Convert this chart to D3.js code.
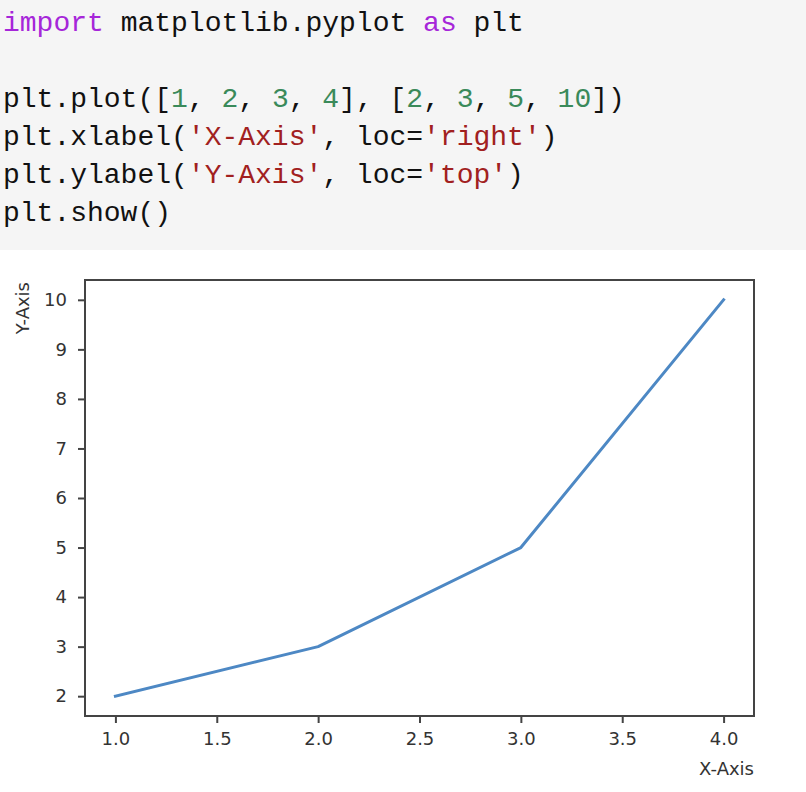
<!DOCTYPE html>
<html>
<head>
<meta charset="utf-8">
<script src="https://cdn.jsdelivr.net/npm/d3@7"></script>
<style>
html,body{margin:0;padding:0;background:#fff;}
svg{display:block;}
</style>
</head>
<body>
<svg id="chart" width="806" height="792"></svg>
<script>
// ---- data ----
const xValues = [1, 2, 3, 4];
const yValues = [2, 3, 5, 10];
const xTicks = [1.0, 1.5, 2.0, 2.5, 3.0, 3.5, 4.0];
const yTicks = [2, 3, 4, 5, 6, 7, 8, 9, 10];
const xLabel = "X-Axis";
const yLabel = "Y-Axis";

// code lines: arrays of [text, kind]
const codeLines = [
  [["import", "kw"], [" matplotlib.pyplot ", "pl"], ["as", "kw"], [" plt", "pl"]],
  [],
  [["plt.plot([", "pl"], ["1", "num"], [", ", "pl"], ["2", "num"], [", ", "pl"], ["3", "num"], [", ", "pl"], ["4", "num"],
   ["], [", "pl"], ["2", "num"], [", ", "pl"], ["3", "num"], [", ", "pl"], ["5", "num"], [", ", "pl"], ["10", "num"], ["])", "pl"]],
  [["plt.xlabel(", "pl"], ["'X-Axis'", "str"], [", loc=", "pl"], ["'right'", "str"], [")", "pl"]],
  [["plt.ylabel(", "pl"], ["'Y-Axis'", "str"], [", loc=", "pl"], ["'top'", "str"], [")", "pl"]],
  [["plt.show()", "pl"]]
];

const colors = {kw: "#a626d9", pl: "#111111", num: "#3a8a5a", str: "#a12020"};

const svg = d3.select("#chart");

// code block
svg.append("rect").attr("x", 0).attr("y", 0).attr("width", 806).attr("height", 250).attr("fill", "#f5f5f5");
const codeG = svg.append("g");
codeLines.forEach((segs, i) => {
  const t = codeG.append("text")
    .attr("x", 3)
    .attr("y", 31 + i * 38)
    .attr("font-family", "'Liberation Mono', 'DejaVu Sans Mono', monospace")
    .attr("font-size", 28)
    .attr("xml:space", "preserve")
    .style("white-space", "pre");
  segs.forEach(([txt, k]) => {
    t.append("tspan").attr("fill", colors[k]).text(txt);
  });
});

// chart
const mLeft = 85, mRight = 754, mTop = 280, mBottom = 716;
const x = d3.scaleLinear().domain([0.85, 4.15]).range([mLeft, mRight]);
const y = d3.scaleLinear().domain([1.6, 10.4]).range([mBottom, mTop]);

const axisColor = "#444";
const textColor = "#333";
const fontFam = "'DejaVu Sans', sans-serif";

svg.append("path")
  .datum(xValues.map((v, i) => [v, yValues[i]]))
  .attr("fill", "none")
  .attr("stroke", "#4d88c4")
  .attr("stroke-width", 3)
  .attr("stroke-linejoin", "round")
  .attr("stroke-linecap", "square")
  .attr("d", d3.line().x(d => x(d[0])).y(d => y(d[1])));

const xAxis = svg.append("g")
  .attr("transform", `translate(0,${mBottom})`)
  .call(d3.axisBottom(x).tickValues(xTicks).tickFormat(d3.format(".1f")).tickSize(7).tickPadding(9));
const yAxis = svg.append("g")
  .attr("transform", `translate(${mLeft},0)`)
  .call(d3.axisLeft(y).tickValues(yTicks).tickFormat(d3.format("d")).tickSize(7).tickPadding(11));

[xAxis, yAxis].forEach(a => {
  a.select(".domain").remove();
  a.selectAll(".tick line").attr("stroke", axisColor).attr("stroke-width", 2);
  a.selectAll(".tick text").attr("fill", textColor).attr("font-family", fontFam).attr("font-size", 18);
});

// spines
svg.append("rect")
  .attr("x", mLeft).attr("y", mTop)
  .attr("width", mRight - mLeft).attr("height", mBottom - mTop)
  .attr("fill", "none").attr("stroke", axisColor).attr("stroke-width", 2);

// labels
svg.append("text")
  .attr("x", mRight).attr("y", 775)
  .attr("text-anchor", "end")
  .attr("fill", textColor).attr("font-family", fontFam).attr("font-size", 18)
  .text(xLabel);

svg.append("text")
  .attr("transform", `translate(29,${mTop + 2}) rotate(-90)`)
  .attr("text-anchor", "end")
  .attr("fill", textColor).attr("font-family", fontFam).attr("font-size", 18)
  .text(yLabel);
</script>
</body>
</html>
